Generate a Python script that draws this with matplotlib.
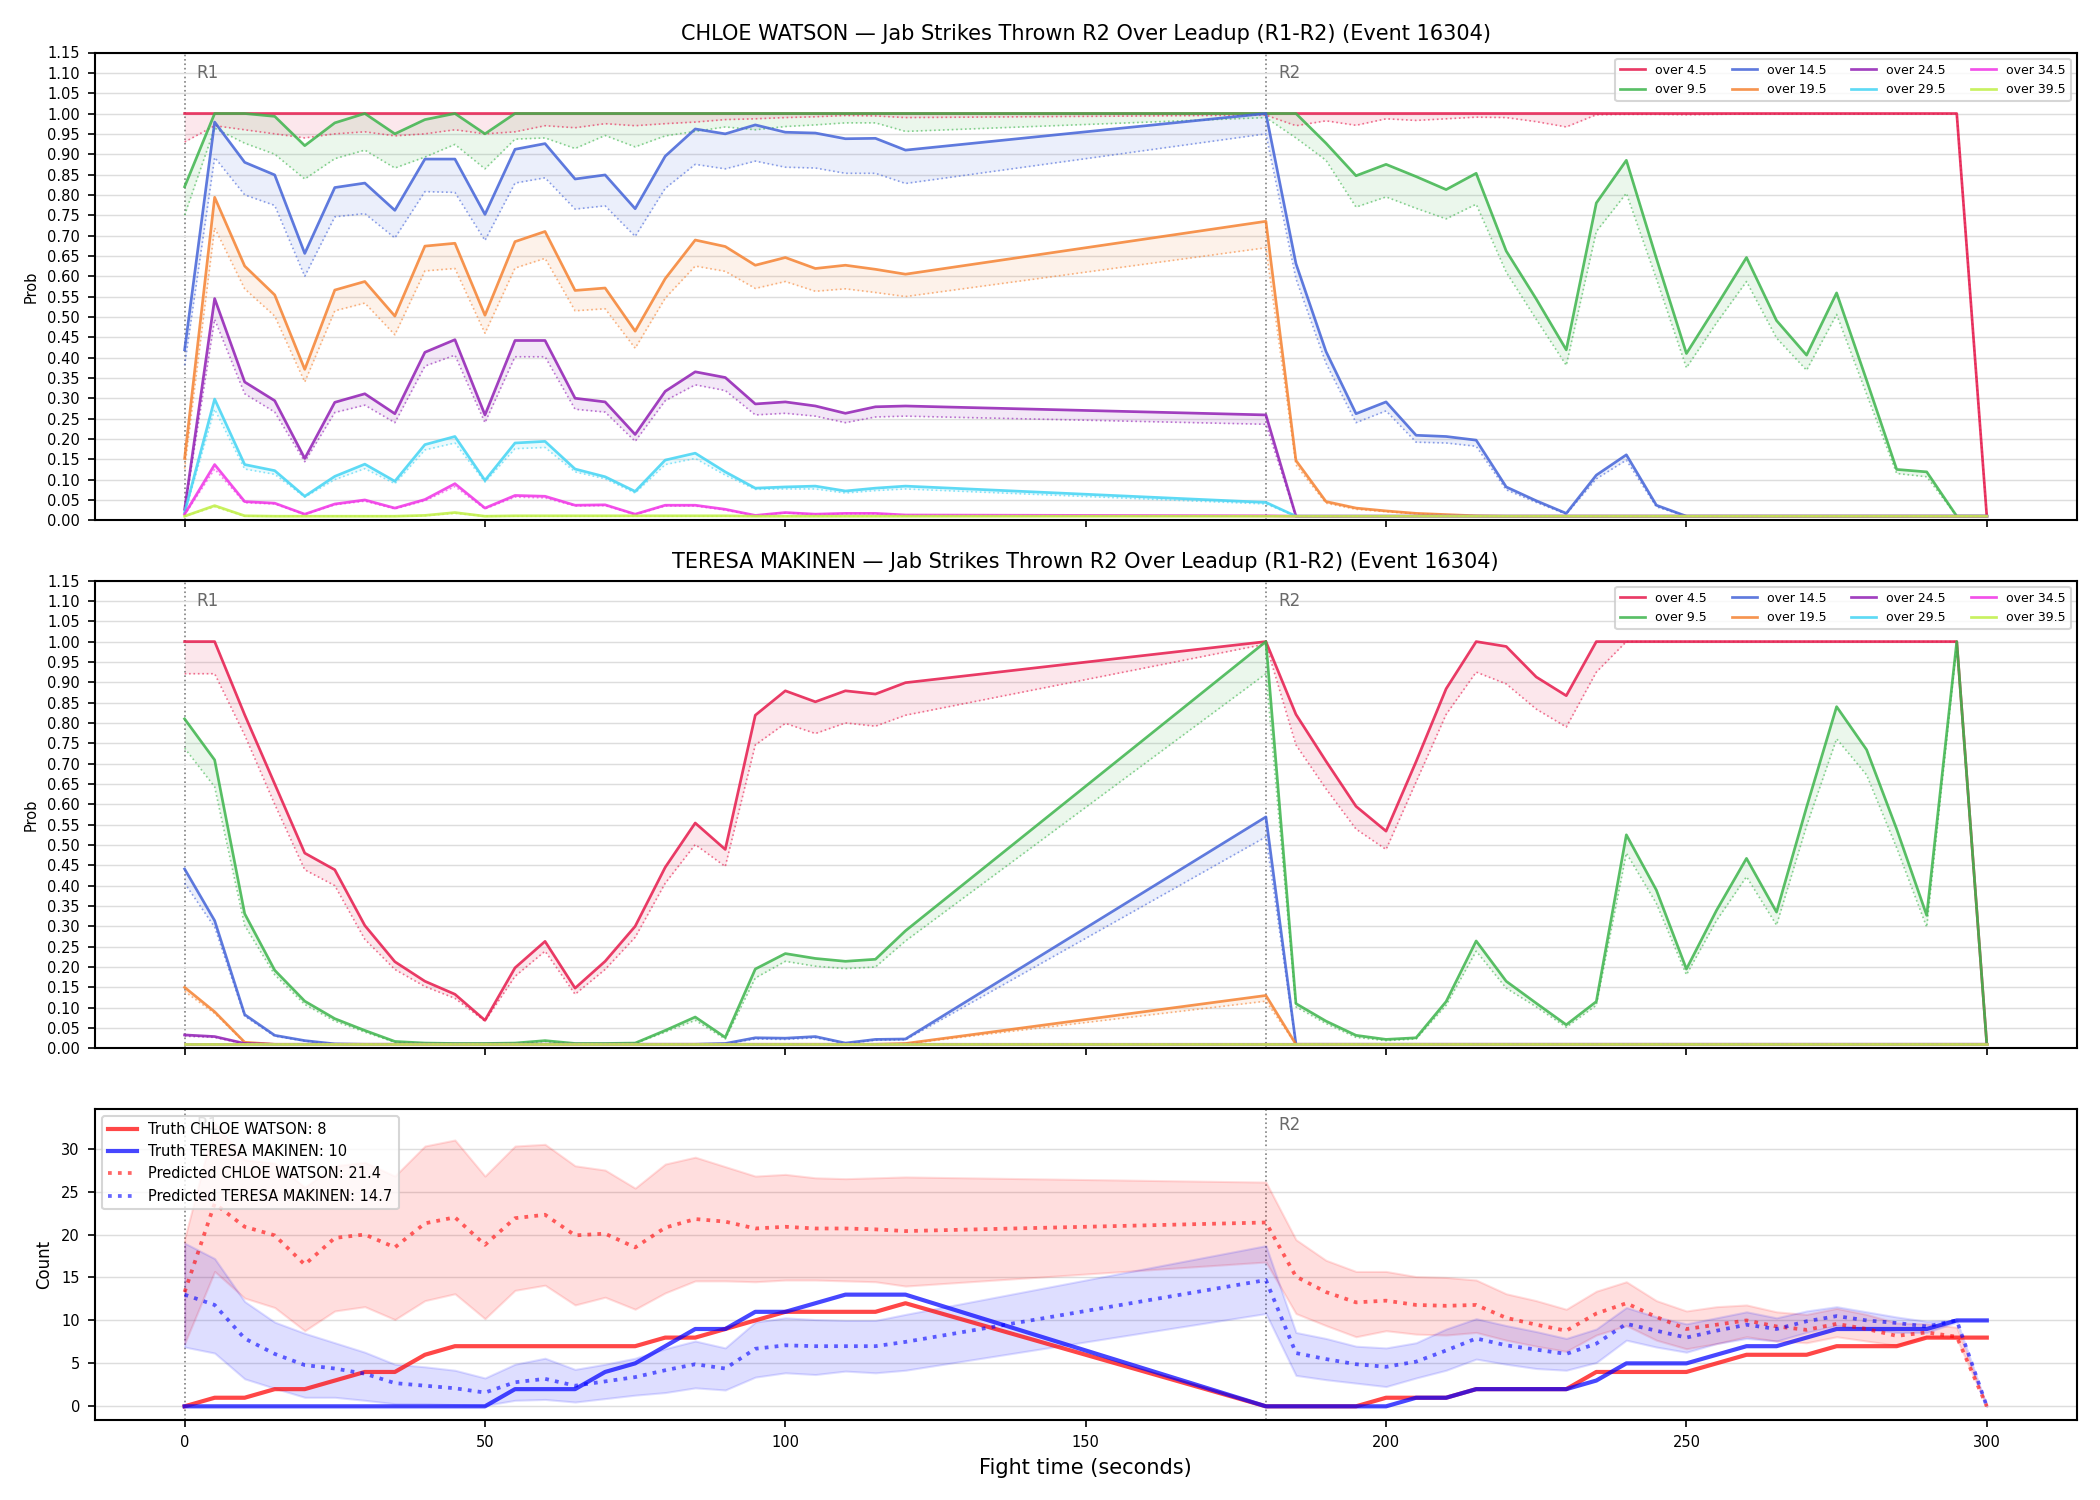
import matplotlib
matplotlib.use('Agg')
import matplotlib.pyplot as plt
import matplotlib.transforms as mtransforms

# sample times (seconds); R1 sampled up to 120 s, then R2 from 180 s
TIMES = [0, 5, 10, 15, 20, 25, 30, 35, 40, 45, 50, 55, 60, 65, 70, 75, 80, 85, 90, 95, 100, 105, 110, 115, 120,
         180, 185, 190, 195, 200, 205, 210, 215, 220, 225, 230, 235, 240, 245, 250, 255, 260, 265, 270, 275, 280, 285, 290, 295, 300]

LINES = ['over 4.5', 'over 9.5', 'over 14.5', 'over 19.5', 'over 24.5', 'over 29.5', 'over 34.5', 'over 39.5']
ROUNDS = [0, 180]
ROUND_NAMES = ['R1', 'R2']

# ---- CHLOE WATSON: probability (solid) and lower line (dotted) ----
CW_45 = [1.0, 1.0, 1.0, 1.0, 1.0, 1.0, 1.0, 1.0, 1.0, 1.0, 1.0, 1.0, 1.0, 1.0, 1.0, 1.0, 1.0, 1.0, 1.0, 1.0, 1.0, 1.0, 1.0, 1.0, 1.0] + \
        [1.0, 1.0, 1.0, 1.0, 1.0, 1.0, 1.0, 1.0, 1.0, 1.0, 1.0, 1.0, 1.0, 1.0, 1.0, 1.0, 1.0, 1.0, 1.0, 1.0, 1.0, 1.0, 1.0, 1.0, 0.01]
CW_45_LO = [0.93, 0.97, 0.96, 0.95, 0.94, 0.95, 0.955, 0.945, 0.95, 0.96, 0.95, 0.955, 0.97, 0.965, 0.975, 0.97, 0.975, 0.979, 0.985, 0.987, 0.99, 0.992, 0.995, 0.994, 0.99] + \
           [0.996, 0.97, 0.982, 0.971, 0.987, 0.983, 0.987, 0.991, 0.99, 0.98, 0.967, 0.997, 0.998, 0.998, 0.997, 0.998, 0.999, 0.999, 0.999, 0.999, 0.999, 0.999, 0.999, 0.999, 0.01]
CW_95 = [0.82, 1.0, 1.0, 0.993, 0.921, 0.977, 1.0, 0.95, 0.985, 1.0, 0.95, 1.0, 1.0, 1.0, 1.0, 1.0, 1.0, 1.0, 1.0, 1.0, 1.0, 1.0, 1.0, 1.0, 1.0] + \
        [1.0, 1.0, 0.927, 0.847, 0.875, 0.845, 0.813, 0.853, 0.662, 0.544, 0.419, 0.78, 0.885, 0.644, 0.41, 0.527, 0.646, 0.491, 0.406, 0.559, 0.344, 0.125, 0.119, 0.01, 0.01]
CW_95_LO = [0.75, 0.964, 0.927, 0.9, 0.839, 0.889, 0.91, 0.866, 0.893, 0.924, 0.864, 0.937, 0.94, 0.914, 0.946, 0.918, 0.945, 0.956, 0.967, 0.96, 0.968, 0.972, 0.977, 0.977, 0.956] + \
           [0.99, 0.94, 0.885, 0.77, 0.795, 0.767, 0.741, 0.777, 0.61, 0.494, 0.381, 0.71, 0.804, 0.594, 0.375, 0.485, 0.587, 0.448, 0.369, 0.506, 0.31, 0.115, 0.107, 0.01, 0.01]
CW_145 = [0.419, 0.979, 0.88, 0.849, 0.656, 0.818, 0.829, 0.762, 0.888, 0.888, 0.752, 0.912, 0.926, 0.839, 0.849, 0.766, 0.895, 0.962, 0.95, 0.972, 0.954, 0.952, 0.938, 0.939, 0.91] + \
         [1.0, 0.631, 0.415, 0.262, 0.291, 0.209, 0.206, 0.197, 0.082, 0.048, 0.017, 0.111, 0.161, 0.037, 0.01, 0.01, 0.01, 0.01, 0.01, 0.01, 0.01, 0.01, 0.01, 0.01, 0.01]
CW_145_LO = [0.381, 0.892, 0.8, 0.774, 0.6, 0.746, 0.754, 0.694, 0.808, 0.806, 0.688, 0.829, 0.842, 0.765, 0.773, 0.698, 0.816, 0.875, 0.864, 0.883, 0.868, 0.866, 0.853, 0.853, 0.828] + \
            [0.95, 0.594, 0.386, 0.24, 0.269, 0.192, 0.19, 0.182, 0.075, 0.044, 0.015, 0.102, 0.148, 0.033, 0.01, 0.01, 0.01, 0.01, 0.01, 0.01, 0.01, 0.01, 0.01, 0.01, 0.01]
CW_195 = [0.152, 0.794, 0.625, 0.554, 0.371, 0.566, 0.587, 0.502, 0.674, 0.681, 0.504, 0.685, 0.71, 0.565, 0.571, 0.465, 0.594, 0.689, 0.673, 0.627, 0.646, 0.619, 0.627, 0.617, 0.605] + \
         [0.735, 0.147, 0.046, 0.03, 0.023, 0.017, 0.014, 0.011, 0.01, 0.01, 0.01, 0.01, 0.01, 0.01, 0.01, 0.01, 0.01, 0.01, 0.01, 0.01, 0.01, 0.01, 0.01, 0.01, 0.01]
CW_195_LO = [0.127, 0.719, 0.569, 0.502, 0.34, 0.515, 0.534, 0.456, 0.613, 0.619, 0.46, 0.62, 0.644, 0.515, 0.52, 0.423, 0.546, 0.625, 0.612, 0.57, 0.587, 0.563, 0.569, 0.56, 0.55] + \
            [0.67, 0.136, 0.042, 0.027, 0.021, 0.016, 0.013, 0.011, 0.01, 0.01, 0.01, 0.01, 0.01, 0.01, 0.01, 0.01, 0.01, 0.01, 0.01, 0.01, 0.01, 0.01, 0.01, 0.01, 0.01]
CW_245 = [0.027, 0.545, 0.34, 0.294, 0.152, 0.29, 0.311, 0.262, 0.413, 0.444, 0.259, 0.442, 0.442, 0.3, 0.291, 0.211, 0.317, 0.365, 0.351, 0.286, 0.291, 0.281, 0.263, 0.279, 0.281] + \
         [0.259, 0.01, 0.01, 0.01, 0.01, 0.01, 0.01, 0.01, 0.01, 0.01, 0.01, 0.01, 0.01, 0.01, 0.01, 0.01, 0.01, 0.01, 0.01, 0.01, 0.01, 0.01, 0.01, 0.01, 0.01]
CW_245_LO = [0.023, 0.494, 0.311, 0.266, 0.144, 0.265, 0.283, 0.24, 0.379, 0.406, 0.24, 0.402, 0.402, 0.273, 0.266, 0.194, 0.294, 0.333, 0.319, 0.259, 0.263, 0.256, 0.24, 0.254, 0.256] + \
            [0.236, 0.01, 0.01, 0.01, 0.01, 0.01, 0.01, 0.01, 0.01, 0.01, 0.01, 0.01, 0.01, 0.01, 0.01, 0.01, 0.01, 0.01, 0.01, 0.01, 0.01, 0.01, 0.01, 0.01, 0.01]
CW_295 = [0.019, 0.298, 0.137, 0.122, 0.059, 0.108, 0.138, 0.096, 0.186, 0.206, 0.098, 0.19, 0.194, 0.126, 0.107, 0.071, 0.148, 0.165, 0.119, 0.079, 0.082, 0.084, 0.072, 0.079, 0.084] + \
         [0.044, 0.01, 0.01, 0.01, 0.01, 0.01, 0.01, 0.01, 0.01, 0.01, 0.01, 0.01, 0.01, 0.01, 0.01, 0.01, 0.01, 0.01, 0.01, 0.01, 0.01, 0.01, 0.01, 0.01, 0.01]
CW_295_LO = [0.017, 0.273, 0.126, 0.113, 0.057, 0.1, 0.127, 0.09, 0.173, 0.19, 0.094, 0.176, 0.179, 0.119, 0.102, 0.067, 0.137, 0.152, 0.111, 0.076, 0.077, 0.077, 0.067, 0.073, 0.077] + \
            [0.04, 0.01, 0.01, 0.01, 0.01, 0.01, 0.01, 0.01, 0.01, 0.01, 0.01, 0.01, 0.01, 0.01, 0.01, 0.01, 0.01, 0.01, 0.01, 0.01, 0.01, 0.01, 0.01, 0.01, 0.01]
CW_345 = [0.015, 0.137, 0.046, 0.042, 0.015, 0.04, 0.05, 0.03, 0.051, 0.09, 0.03, 0.061, 0.059, 0.037, 0.038, 0.015, 0.037, 0.037, 0.027, 0.012, 0.019, 0.015, 0.017, 0.017, 0.013] + \
         [0.011, 0.01, 0.01, 0.01, 0.01, 0.01, 0.01, 0.01, 0.01, 0.01, 0.01, 0.01, 0.01, 0.01, 0.01, 0.01, 0.01, 0.01, 0.01, 0.01, 0.01, 0.01, 0.01, 0.01, 0.01]
CW_345_LO = [0.013, 0.126, 0.043, 0.04, 0.014, 0.038, 0.047, 0.028, 0.048, 0.083, 0.028, 0.057, 0.055, 0.035, 0.036, 0.014, 0.035, 0.035, 0.025, 0.011, 0.018, 0.014, 0.016, 0.016, 0.012] + \
            [0.01, 0.01, 0.01, 0.01, 0.01, 0.01, 0.01, 0.01, 0.01, 0.01, 0.01, 0.01, 0.01, 0.01, 0.01, 0.01, 0.01, 0.01, 0.01, 0.01, 0.01, 0.01, 0.01, 0.01, 0.01]
CW_395 = [0.01, 0.036, 0.011, 0.01, 0.01, 0.01, 0.01, 0.01, 0.012, 0.019, 0.01, 0.011, 0.011, 0.011, 0.011, 0.011, 0.011, 0.011, 0.011, 0.01, 0.01, 0.01, 0.01, 0.01, 0.01] + \
         [0.01, 0.01, 0.01, 0.01, 0.01, 0.01, 0.01, 0.01, 0.01, 0.01, 0.01, 0.01, 0.01, 0.01, 0.01, 0.01, 0.01, 0.01, 0.01, 0.01, 0.01, 0.01, 0.01, 0.01, 0.01]
CW_395_LO = [0.01, 0.033, 0.01, 0.01, 0.01, 0.01, 0.01, 0.01, 0.011, 0.017, 0.01, 0.01, 0.01, 0.01, 0.01, 0.01, 0.01, 0.01, 0.01, 0.01, 0.01, 0.01, 0.01, 0.01, 0.01] + \
            [0.01, 0.01, 0.01, 0.01, 0.01, 0.01, 0.01, 0.01, 0.01, 0.01, 0.01, 0.01, 0.01, 0.01, 0.01, 0.01, 0.01, 0.01, 0.01, 0.01, 0.01, 0.01, 0.01, 0.01, 0.01]

# ---- TERESA MAKINEN ----
TM_45 = [1.0, 1.0, 0.82, 0.65, 0.48, 0.439, 0.302, 0.213, 0.165, 0.133, 0.069, 0.198, 0.263, 0.148, 0.214, 0.3, 0.445, 0.554, 0.489, 0.819, 0.879, 0.852, 0.879, 0.871, 0.899] + \
        [1.0, 0.821, 0.706, 0.595, 0.534, 0.705, 0.884, 1.0, 0.988, 0.913, 0.867, 1.0, 1.0, 1.0, 1.0, 1.0, 1.0, 1.0, 1.0, 1.0, 1.0, 1.0, 1.0, 1.0, 0.01]
TM_45_LO = [0.921, 0.921, 0.77, 0.6, 0.439, 0.4, 0.268, 0.194, 0.152, 0.123, 0.067, 0.177, 0.239, 0.133, 0.194, 0.273, 0.406, 0.501, 0.447, 0.746, 0.799, 0.774, 0.8, 0.792, 0.819] + \
           [0.994, 0.746, 0.638, 0.539, 0.489, 0.655, 0.821, 0.925, 0.896, 0.834, 0.79, 0.925, 1.0, 1.0, 1.0, 1.0, 1.0, 1.0, 1.0, 1.0, 1.0, 1.0, 1.0, 1.0, 0.01]
TM_95 = [0.81, 0.709, 0.331, 0.192, 0.116, 0.073, 0.044, 0.017, 0.013, 0.012, 0.012, 0.013, 0.019, 0.012, 0.012, 0.013, 0.044, 0.077, 0.027, 0.195, 0.233, 0.221, 0.214, 0.219, 0.289] + \
        [1.0, 0.11, 0.067, 0.032, 0.022, 0.026, 0.115, 0.264, 0.165, 0.111, 0.058, 0.115, 0.525, 0.389, 0.195, 0.339, 0.467, 0.335, 0.593, 0.84, 0.734, 0.539, 0.327, 1.0, 0.01]
TM_95_LO = [0.738, 0.643, 0.302, 0.181, 0.108, 0.067, 0.04, 0.015, 0.012, 0.011, 0.011, 0.012, 0.017, 0.011, 0.011, 0.012, 0.04, 0.069, 0.023, 0.173, 0.214, 0.202, 0.196, 0.2, 0.264] + \
           [0.921, 0.102, 0.061, 0.027, 0.019, 0.023, 0.106, 0.239, 0.148, 0.102, 0.052, 0.106, 0.48, 0.356, 0.181, 0.314, 0.422, 0.303, 0.547, 0.761, 0.672, 0.493, 0.298, 0.99, 0.01]
TM_145 = [0.441, 0.314, 0.083, 0.032, 0.019, 0.011, 0.01, 0.01, 0.01, 0.01, 0.01, 0.01, 0.01, 0.01, 0.01, 0.01, 0.01, 0.01, 0.012, 0.026, 0.025, 0.029, 0.013, 0.022, 0.023] + \
         [0.569, 0.01, 0.01, 0.01, 0.01, 0.01, 0.01, 0.01, 0.01, 0.01, 0.01, 0.01, 0.01, 0.01, 0.01, 0.01, 0.01, 0.01, 0.01, 0.01, 0.01, 0.01, 0.01, 0.01, 0.01]
TM_145_LO = [0.406, 0.298, 0.079, 0.03, 0.018, 0.01, 0.01, 0.01, 0.01, 0.01, 0.01, 0.01, 0.01, 0.01, 0.01, 0.01, 0.01, 0.01, 0.011, 0.023, 0.022, 0.026, 0.012, 0.02, 0.021] + \
            [0.52, 0.01, 0.01, 0.01, 0.01, 0.01, 0.01, 0.01, 0.01, 0.01, 0.01, 0.01, 0.01, 0.01, 0.01, 0.01, 0.01, 0.01, 0.01, 0.01, 0.01, 0.01, 0.01, 0.01, 0.01]
TM_195 = [0.15, 0.09, 0.015, 0.01, 0.01, 0.01, 0.01, 0.01, 0.01, 0.01, 0.01, 0.01, 0.01, 0.01, 0.01, 0.01, 0.01, 0.01, 0.01, 0.01, 0.01, 0.01, 0.01, 0.01, 0.012] + \
         [0.13, 0.01, 0.01, 0.01, 0.01, 0.01, 0.01, 0.01, 0.01, 0.01, 0.01, 0.01, 0.01, 0.01, 0.01, 0.01, 0.01, 0.01, 0.01, 0.01, 0.01, 0.01, 0.01, 0.01, 0.01]
TM_195_LO = [0.14, 0.086, 0.014, 0.01, 0.01, 0.01, 0.01, 0.01, 0.01, 0.01, 0.01, 0.01, 0.01, 0.01, 0.01, 0.01, 0.01, 0.01, 0.01, 0.01, 0.01, 0.01, 0.01, 0.01, 0.011] + \
            [0.116, 0.01, 0.01, 0.01, 0.01, 0.01, 0.01, 0.01, 0.01, 0.01, 0.01, 0.01, 0.01, 0.01, 0.01, 0.01, 0.01, 0.01, 0.01, 0.01, 0.01, 0.01, 0.01, 0.01, 0.01]
TM_245 = [0.033, 0.029, 0.012, 0.01, 0.01, 0.01, 0.01, 0.01, 0.01, 0.01, 0.01, 0.01, 0.01, 0.01, 0.01, 0.01, 0.01, 0.01, 0.01, 0.01, 0.01, 0.01, 0.01, 0.01, 0.01] + \
         [0.01, 0.01, 0.01, 0.01, 0.01, 0.01, 0.01, 0.01, 0.01, 0.01, 0.01, 0.01, 0.01, 0.01, 0.01, 0.01, 0.01, 0.01, 0.01, 0.01, 0.01, 0.01, 0.01, 0.01, 0.01]
TM_245_LO = [0.03, 0.027, 0.011, 0.01, 0.01, 0.01, 0.01, 0.01, 0.01, 0.01, 0.01, 0.01, 0.01, 0.01, 0.01, 0.01, 0.01, 0.01, 0.01, 0.01, 0.01, 0.01, 0.01, 0.01, 0.01] + \
            [0.01, 0.01, 0.01, 0.01, 0.01, 0.01, 0.01, 0.01, 0.01, 0.01, 0.01, 0.01, 0.01, 0.01, 0.01, 0.01, 0.01, 0.01, 0.01, 0.01, 0.01, 0.01, 0.01, 0.01, 0.01]
TM_FLOOR = [0.01, 0.01, 0.01, 0.01, 0.01, 0.01, 0.01, 0.01, 0.01, 0.01, 0.01, 0.01, 0.01, 0.01, 0.01, 0.01, 0.01, 0.01, 0.01, 0.01, 0.01, 0.01, 0.01, 0.01, 0.01] + \
           [0.01, 0.01, 0.01, 0.01, 0.01, 0.01, 0.01, 0.01, 0.01, 0.01, 0.01, 0.01, 0.01, 0.01, 0.01, 0.01, 0.01, 0.01, 0.01, 0.01, 0.01, 0.01, 0.01, 0.01, 0.01]

# ---- counts panel ----
TRUTH_CW = [0, 1, 1, 2, 2, 3, 4, 4, 6, 7, 7, 7, 7, 7, 7, 7, 8, 8, 9, 10, 11, 11, 11, 11, 12] + \
           [0, 0, 0, 0, 1, 1, 1, 2, 2, 2, 2, 4, 4, 4, 4, 5, 6, 6, 6, 7, 7, 7, 8, 8, 8]
TRUTH_TM = [0, 0, 0, 0, 0, 0, 0, 0, 0, 0, 0, 2, 2, 2, 4, 5, 7, 9, 9, 11, 11, 12, 13, 13, 13] + \
           [0, 0, 0, 0, 0, 1, 1, 2, 2, 2, 2, 3, 5, 5, 5, 6, 7, 7, 8, 9, 9, 9, 9, 10, 10]
PRED_CW = [13.3, 23.6, 20.9, 19.9, 16.5, 19.6, 20.0, 18.5, 21.3, 22.0, 18.8, 21.9, 22.3, 19.9, 20.1, 18.5, 20.8, 21.8, 21.5, 20.7, 20.9, 20.7, 20.7, 20.6, 20.4] + \
          [21.4, 15.1, 13.3, 12.1, 12.3, 11.8, 11.7, 11.8, 10.3, 9.5, 8.8, 10.8, 12.0, 10.4, 9.0, 9.5, 10.0, 9.3, 8.9, 9.6, 9.0, 8.2, 8.6, 8.1, 0.0]
PRED_CW_HI = [19.5, 33.0, 28.7, 28.3, 25.5, 28.0, 28.4, 26.8, 30.3, 31.0, 26.8, 30.3, 30.5, 28.0, 27.5, 25.4, 28.2, 29.0, 27.9, 26.8, 27.0, 26.6, 26.5, 26.6, 26.7] + \
             [26.1, 19.4, 17.0, 15.7, 15.7, 15.1, 15.0, 14.7, 13.1, 12.3, 11.3, 13.4, 14.5, 12.3, 11.1, 11.6, 11.8, 11.0, 10.7, 11.4, 10.7, 9.7, 9.6, 9.2, 0.0]
PRED_CW_LO = [7.3, 15.7, 12.6, 11.5, 8.8, 11.1, 11.6, 10.1, 12.3, 13.1, 10.2, 13.5, 14.1, 11.8, 12.7, 11.3, 13.2, 14.6, 14.6, 14.5, 14.7, 14.7, 14.6, 14.5, 14.0] + \
             [16.8, 10.8, 9.4, 8.1, 8.8, 8.4, 8.3, 8.6, 7.7, 7.0, 6.4, 8.3, 9.4, 7.7, 6.7, 7.3, 8.1, 7.6, 7.4, 8.1, 7.6, 7.1, 8.1, 7.9, 0.0]
PRED_TM = [13.0, 11.8, 7.9, 6.1, 4.8, 4.4, 3.8, 2.7, 2.4, 2.1, 1.6, 2.8, 3.2, 2.4, 2.9, 3.4, 4.2, 4.9, 4.4, 6.7, 7.1, 7.0, 7.0, 7.0, 7.5] + \
          [14.7, 6.2, 5.5, 4.9, 4.6, 5.2, 6.5, 7.9, 7.1, 6.6, 6.1, 7.3, 9.6, 8.8, 8.0, 8.8, 9.5, 9.0, 9.9, 10.5, 10.0, 9.7, 9.3, 10.0, 0.0]
PRED_TM_HI = [19.0, 17.2, 12.2, 9.8, 8.5, 7.4, 6.3, 4.9, 4.6, 4.2, 3.3, 4.9, 5.6, 4.3, 4.9, 5.6, 6.7, 7.6, 6.8, 9.8, 10.3, 10.1, 10.0, 10.0, 10.7] + \
             [18.7, 8.6, 7.9, 7.0, 6.8, 7.4, 9.0, 10.2, 9.4, 8.7, 7.9, 9.0, 11.5, 10.4, 9.6, 10.3, 11.0, 10.3, 11.1, 11.6, 11.0, 10.4, 9.9, 10.0, 0.0]
PRED_TM_LO = [6.9, 6.2, 3.2, 2.1, 1.05, 1.05, 0.7, 0.3, 0.3, 0.2, 0.1, 0.7, 0.8, 0.5, 0.9, 1.3, 1.6, 2.15, 1.9, 3.4, 3.9, 3.7, 4.1, 3.9, 4.2] + \
             [10.8, 3.6, 3.1, 2.7, 2.3, 3.3, 4.2, 5.5, 4.9, 4.4, 4.2, 5.1, 7.7, 6.9, 6.3, 7.3, 7.9, 7.6, 8.6, 9.4, 9.0, 8.6, 8.6, 9.8, 0.0]

COLORS = ['#e6194B', '#3cb44b', '#4363d8', '#f58231', '#911eb4', '#42d4f4', '#f032e6', '#bfef45']

CW_P = [CW_45, CW_95, CW_145, CW_195, CW_245, CW_295, CW_345, CW_395]
CW_L = [CW_45_LO, CW_95_LO, CW_145_LO, CW_195_LO, CW_245_LO, CW_295_LO, CW_345_LO, CW_395_LO]
TM_P = [TM_45, TM_95, TM_145, TM_195, TM_245, TM_FLOOR, TM_FLOOR, TM_FLOOR]
TM_L = [TM_45_LO, TM_95_LO, TM_145_LO, TM_195_LO, TM_245_LO, TM_FLOOR, TM_FLOOR, TM_FLOOR]


def mark_rounds(ax, labels=True):
    trans = mtransforms.blended_transform_factory(ax.transData, ax.transAxes)
    for r, name in zip(ROUNDS, ROUND_NAMES):
        ax.axvline(r, color='gray', ls=':', lw=0.8, zorder=0)
        if labels:
            ax.text(r + 2, 0.975, name, transform=trans, va='top', ha='left',
                    color='dimgray', fontsize=8)


def prob_panel(ax, fighter, probs, lows):
    for label, color, p, lo in zip(LINES, COLORS, probs, lows):
        ax.plot(TIMES, p, color=color, lw=1.3, alpha=0.85, label=label)
        ax.plot(TIMES, lo, color=color, lw=0.8, alpha=0.6, ls=':')
        ax.fill_between(TIMES, lo, p, color=color, alpha=0.1, lw=0)
    mark_rounds(ax)
    ax.set_ylim(0, 1.15)
    ax.set_yticks([i * 0.05 for i in range(24)])
    ax.set_ylabel('Prob', fontsize=7)
    ax.set_title(f'{fighter} \u2014 Jab Strikes Thrown R2 Over Leadup (R1-R2) (Event 16304)', fontsize=10)
    ax.grid(axis='y', color='#dddddd', lw=0.7)
    ax.set_axisbelow(True)
    ax.legend(loc='upper right', ncol=4, fontsize=6, framealpha=0.8)


fig, axes = plt.subplots(3, 1, figsize=(14, 10), dpi=150, sharex=True,
                         gridspec_kw={'height_ratios': [3, 3, 2]})
fig.subplots_adjust(left=0.045, right=0.989, top=0.965, bottom=0.053, hspace=0.145)

prob_panel(axes[0], 'CHLOE WATSON', CW_P, CW_L)
prob_panel(axes[1], 'TERESA MAKINEN', TM_P, TM_L)

ax = axes[2]
ax.fill_between(TIMES, PRED_CW_LO, PRED_CW_HI, color='red', alpha=0.13)
ax.fill_between(TIMES, PRED_TM_LO, PRED_TM_HI, color='blue', alpha=0.13)
ax.plot(TIMES, TRUTH_CW, color='red', lw=2, alpha=0.72, label='Truth CHLOE WATSON: 8')
ax.plot(TIMES, TRUTH_TM, color='blue', lw=2, alpha=0.72, label='Truth TERESA MAKINEN: 10')
ax.plot(TIMES, PRED_CW, color='red', lw=1.8, alpha=0.6, ls=':', label='Predicted CHLOE WATSON: 21.4')
ax.plot(TIMES, PRED_TM, color='blue', lw=1.8, alpha=0.6, ls=':', label='Predicted TERESA MAKINEN: 14.7')
mark_rounds(ax)
ax.set_ylabel('Count', fontsize=8)
ax.set_xlabel('Fight time (seconds)', fontsize=10)
ax.grid(axis='y', color='#dddddd', lw=0.7)
ax.set_axisbelow(True)
ax.legend(loc='upper left', fontsize=7, framealpha=0.8)

for a in axes:
    a.tick_params(labelsize=7)
    for s in a.spines.values():
        s.set_linewidth(1.0)

fig.savefig('out.png', dpi=150)
